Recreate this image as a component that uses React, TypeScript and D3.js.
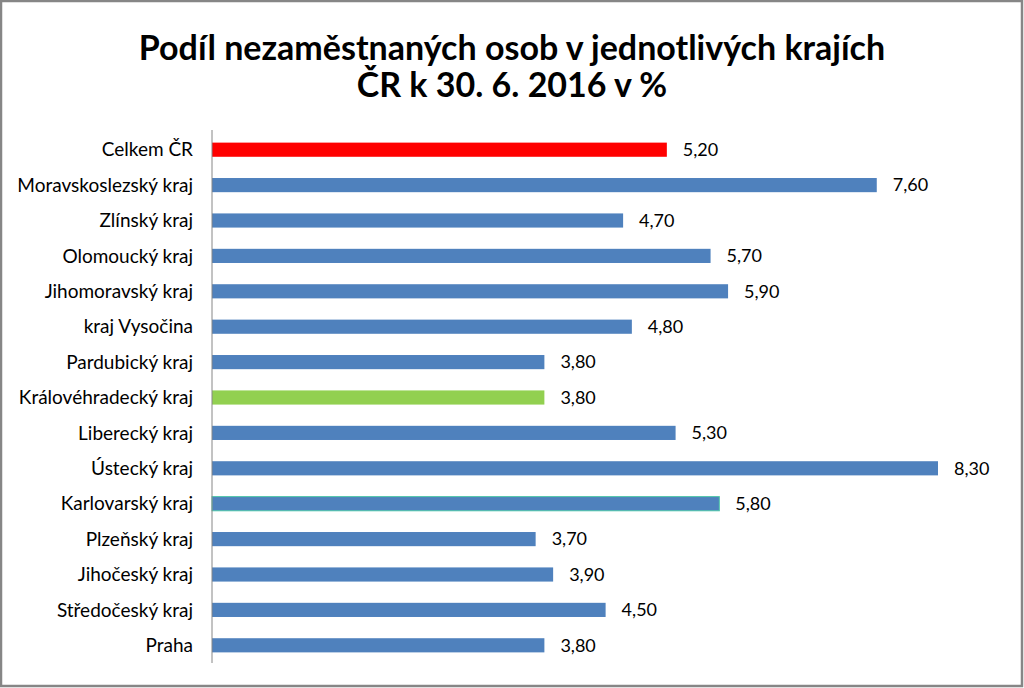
import React from "react";
import * as d3 from "d3";

const categories = [
  "Celkem ČR",
  "Moravskoslezský kraj",
  "Zlínský kraj",
  "Olomoucký kraj",
  "Jihomoravský kraj",
  "kraj Vysočina",
  "Pardubický kraj",
  "Královéhradecký kraj",
  "Liberecký kraj",
  "Ústecký kraj",
  "Karlovarský kraj",
  "Plzeňský kraj",
  "Jihočeský kraj",
  "Středočeský kraj",
  "Praha",
];
const values = [5.2, 7.6, 4.7, 5.7, 5.9, 4.8, 3.8, 3.8, 5.3, 8.3, 5.8, 3.7, 3.9, 4.5, 3.8];
const titleLines = ["Podíl nezaměstnaných osob v jednotlivých krajích", "ČR k 30. 6. 2016 v %"];

const W = 1024;
const H = 688;
const FONT = "Lato, 'Open Sans', sans-serif";

function barFill(cat: string) {
  if (cat === "Celkem ČR") return "#FF0000";
  if (cat === "Královéhradecký kraj") return "#92D050";
  return "#4F81BD";
}

export default function App() {
  const x = d3.scaleLinear().domain([0, 8.3]).range([212, 938]);
  const y = d3.scaleBand<string>().domain(categories).range([132, 663]).paddingInner(0.6).paddingOuter(0.3);
  const fmt = (v: number) => v.toFixed(2).replace(".", ",");
  return (
    <div style={{ position: "fixed", left: 0, top: 0 }}>
      <svg width={W} height={H} style={{ display: "block" }}>
        <rect x={0} y={0} width={W} height={H} fill="#ffffff" />
        <rect x={1} y={1} width={W - 3} height={H - 3} fill="none" stroke="#868686" strokeWidth={2.5} />
        {titleLines.map((t, i) => (
          <text
            key={i}
            x={512}
            y={60 + i * 37}
            textAnchor="middle"
            fontFamily={FONT}
            fontWeight="bold"
            fontSize={34}
            fill="#000"
          >
            {t}
          </text>
        ))}
        {categories.map((c, i) => {
          const yy = y(c)!;
          const bh = y.bandwidth();
          return (
            <g key={c}>
              <rect
                x={x(0)}
                y={yy}
                width={x(values[i]) - x(0)}
                height={bh}
                fill={barFill(c)}
                stroke={c === "Karlovarský kraj" ? "#4BC6A8" : "none"}
                strokeWidth={1}
              />
              <text
                x={193}
                y={yy + bh / 2}
                dy="0.35em"
                textAnchor="end"
                fontFamily={FONT}
                fontSize={19}
                fill="#000"
              >
                {c}
              </text>
              <text
                x={x(values[i]) + 16}
                y={yy + bh / 2}
                dy="0.35em"
                fontFamily={FONT}
                fontSize={18}
                fill="#000"
              >
                {fmt(values[i])}
              </text>
            </g>
          );
        })}
        <line x1={x(0)} x2={x(0)} y1={130} y2={663} stroke="#868686" strokeWidth={1} />
      </svg>
    </div>
  );
}
